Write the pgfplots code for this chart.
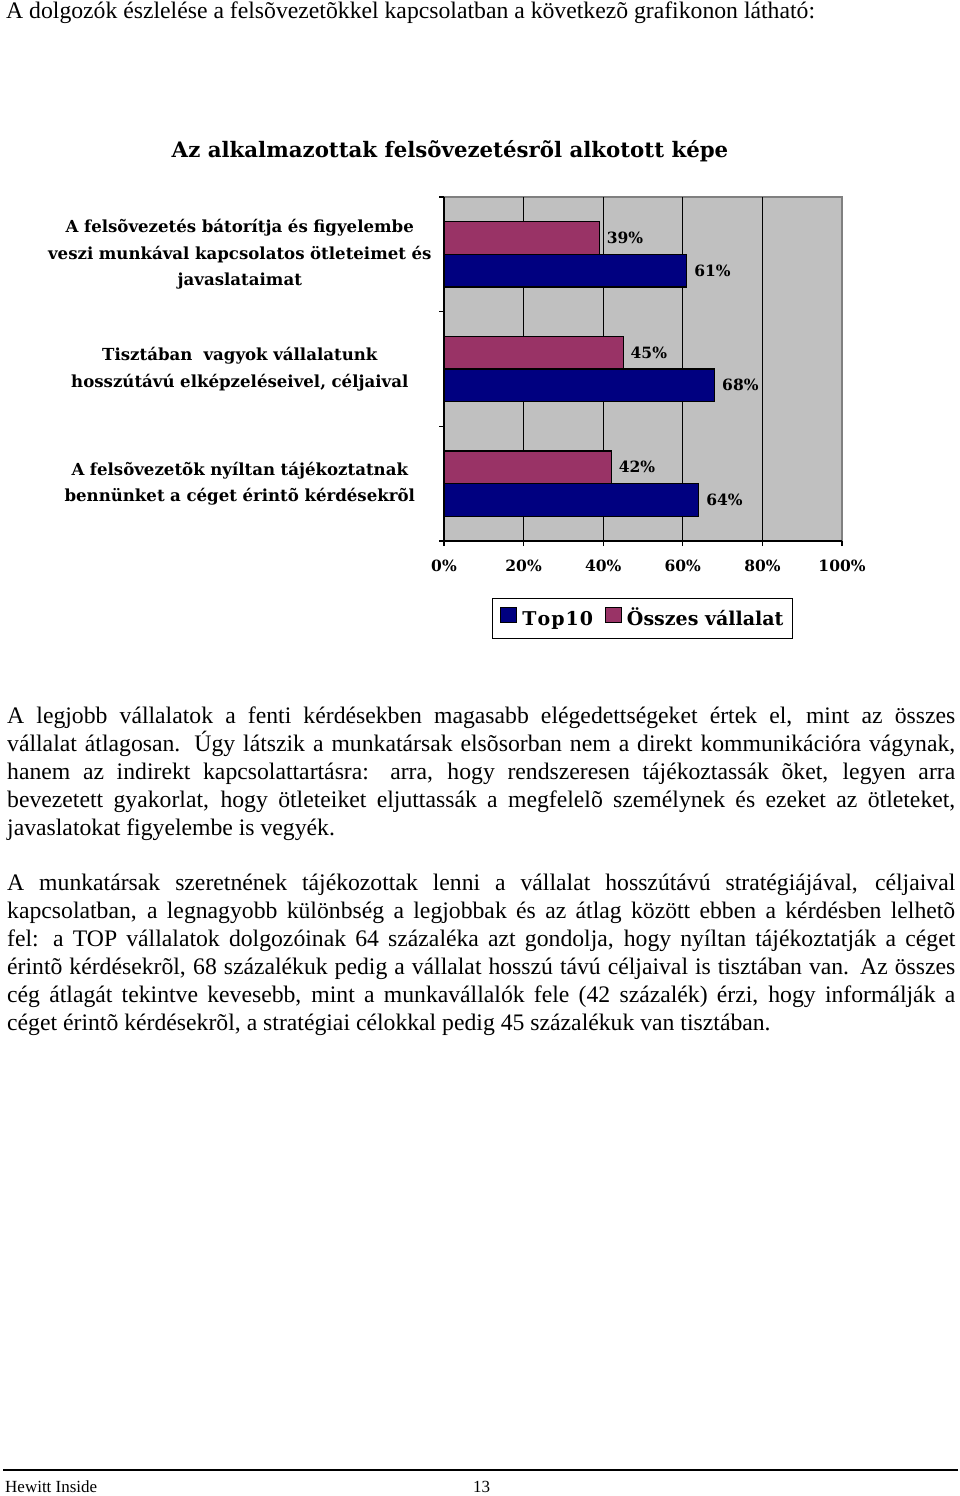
\documentclass[border=0pt]{standalone}
\usepackage{fontspec}
\setmainfont{Liberation Serif}
\newfontfamily\chartfont{DejaVu Serif}
\usepackage{pgfplots}
\pgfplotsset{compat=1.18}
\definecolor{topblue}{HTML}{000080}
\definecolor{allmag}{HTML}{993366}
\definecolor{plotgray}{HTML}{C0C0C0}
\definecolor{bordergray}{HTML}{808080}
\newcommand\bodyfont{\fontsize{23.7}{28}\selectfont}
\newcommand\jline[2]{\node[anchor=base west, inner sep=0pt, font=\bodyfont] at (7,-#1) {\hbox to 948pt{\spaceskip=0.25em plus 1fil minus 0.1em\relax #2}};}
\newcommand\nline[2]{\node[anchor=base west, inner sep=0pt, font=\bodyfont] at (7,-#1) {#2};}
\begin{document}
\begin{tikzpicture}[x=1pt,y=1pt]
\useasboundingbox (0,0) rectangle (960,-1496);
\fill[white] (0,0) rectangle (960,-1496);
\node[anchor=base west, inner sep=0pt, font=\bodyfont] at (6,-19) {A dolgozók észlelése a felsõvezetõkkel kapcsolatban a következõ grafikonon látható:};
\node[anchor=base, inner sep=0pt, font=\chartfont\bfseries\fontsize{21.3}{24}\selectfont] at (450,-157) {Az alkalmazottak felsõvezetésrõl alkotott képe};
\begin{axis}[
  at={(444pt,-541pt)}, anchor=south west,
  scale only axis, width=398pt, height=344pt,
  xmin=0, xmax=100, ymin=-0.5, ymax=2.5,
  xbar, bar width=0.285,
  axis lines*=left,
  axis line style={-, black, line width=1.5pt},
  axis background/.style={fill=plotgray, draw=bordergray, line width=2pt},
  tick align=outside,
  major tick length=5pt,
  tick style={black, line width=1.3pt},
  xtick={0,20,40,60,80,100},
  xticklabels={0\%,20\%,40\%,60\%,80\%,100\%},
  xticklabel style={font=\chartfont\bfseries\fontsize{15.5}{18}\selectfont, inner sep=0pt, yshift=-14pt},
  extra x ticks={20,40,60,80},
  extra x tick labels={},
  extra x tick style={grid=major, major tick length=0pt, grid style={black, line width=1.3pt}},
  ytick={-0.5,0.5,1.5,2.5},
  yticklabels={},
  extra y ticks={0,1,2},
  extra y tick labels={{A felsõvezetõk nyíltan tájékoztatnak\\bennünket a céget érintõ kérdésekrõl},{Tisztában\ \ vagyok vállalatunk\\hosszútávú elképzeléseivel, céljaival},{A felsõvezetés bátorítja és figyelembe\\veszi munkával kapcsolatos ötleteimet és\\javaslataimat}},
  extra y tick style={major tick length=0pt, yticklabel style={align=center, text width=396pt, inner sep=0pt, xshift=-6pt, font=\chartfont\bfseries\fontsize{16.6}{26.7}\selectfont}},
  point meta=x,
  nodes near coords={\pgfmathprintnumber[assume math mode=true]{\pgfplotspointmeta}\%},
  every node near coord/.append style={font=\chartfont\bfseries\fontsize{15.5}{18}\selectfont, anchor=west, inner sep=0pt, xshift=7pt, text=black},
  legend columns=-1,
  legend style={at={(0.4987,-0.2253)}, anchor=center, draw=black, line width=1.5pt, fill=white, inner xsep=8pt, inner ysep=8.5pt, font=\chartfont\bfseries\fontsize{19}{22}\selectfont, column sep=4pt, /tikz/every even column/.append style={column sep=11pt}, nodes={inner sep=1pt, text=black, text height=14pt, text depth=4pt}},
  legend image code/.code={\draw[#1, line width=1pt, draw=black] (0pt,-2.5pt) rectangle (16pt,12.5pt);},
]
\addplot[fill=topblue, draw=black, line width=1.2pt, bar shift=0pt] coordinates {(61,1.8575) (68,0.8575) (64,-0.1425)};
\addplot[fill=allmag, draw=black, line width=1.2pt, bar shift=0pt] coordinates {(39,2.1425) (45,1.1425) (42,0.1425)};
\legend{T\kern1pt o\kern1pt p\kern1pt 1\kern1pt 0, Összes vállalat}
\end{axis}
\jline{723}{A legjobb vállalatok a fenti kérdésekben magasabb elégedettségeket értek el, mint az összes}
\jline{751}{vállalat átlagosan. Úgy látszik a munkatársak elsõsorban nem a direkt kommunikációra vágynak,}
\jline{779}{hanem az indirekt kapcsolattartásra: arra, hogy rendszeresen tájékoztassák õket, legyen arra}
\jline{807}{bevezetett gyakorlat, hogy ötleteiket eljuttassák a megfelelõ személynek és ezeket az ötleteket,}
\nline{835}{javaslatokat figyelembe is vegyék.}
\jline{890}{A munkatársak szeretnének tájékozottak lenni a vállalat hosszútávú stratégiájával, céljaival}
\jline{918}{kapcsolatban, a legnagyobb különbség a legjobbak és az átlag között ebben a kérdésben lelhetõ}
\jline{946}{fel: a TOP vállalatok dolgozóinak 64 százaléka azt gondolja, hogy nyíltan tájékoztatják a céget}
\jline{974}{érintõ kérdésekrõl, 68 százalékuk pedig a vállalat hosszú távú céljaival is tisztában van. Az összes}
\jline{1002}{cég átlagát tekintve kevesebb, mint a munkavállalók fele (42 százalék) érzi, hogy informálják a}
\nline{1030}{céget érintõ kérdésekrõl, a stratégiai célokkal pedig 45 százalékuk van tisztában.}
\draw[line width=2pt] (3,-1470) -- (958,-1470);
\node[anchor=base west, inner sep=0pt, font=\fontsize{17}{20}\selectfont] at (5,-1492) {Hewitt Inside};
\node[anchor=base west, inner sep=0pt, font=\fontsize{17}{20}\selectfont] at (473,-1492) {13};
\end{tikzpicture}
\end{document}
